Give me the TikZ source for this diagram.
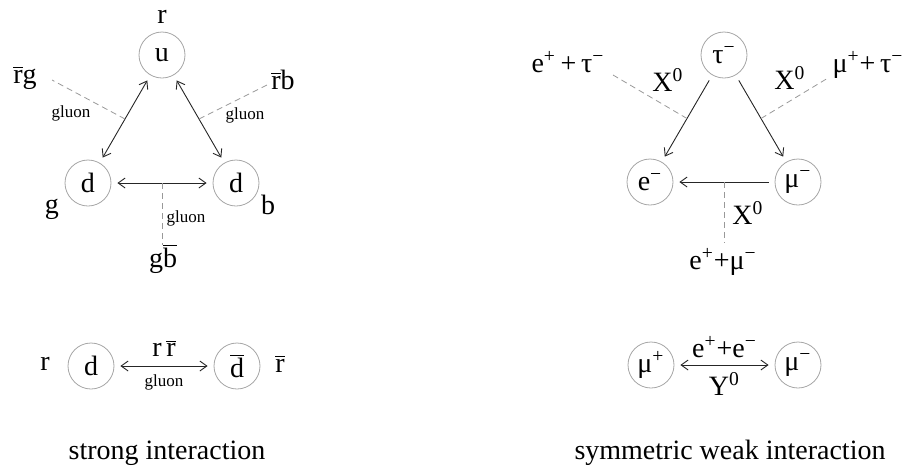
\documentclass[tikz,border=0pt]{standalone}
\usepackage{fontspec}
\setmainfont{Liberation Serif}
\usetikzlibrary{arrows.meta}

\newcommand{\ovl}[1]{$\overline{\mbox{#1}}$}
\newcommand{\sups}[1]{\textsuperscript{#1}}

\begin{document}
\begin{tikzpicture}[
        x=0.5pt,
        y=-0.5pt,
        every node/.style={font=\fontsize{14}{16}\selectfont},
        part/.style={
            circle,
            draw=gray!70,
            line width=0.4pt,
            minimum size=23pt,
            inner sep=0pt
        },
        link/.style={
            draw=gray!30!black,
            line width=0.45pt,
            shorten >=3pt,
            shorten <=3pt,
            >={Straight Barb[length=3.5pt,width=5pt]}
        },
        gluon/.style={draw=gray!80, line width=0.4pt, dash pattern=on 3pt off 2pt},
        tag/.style={font=\fontsize{8.5}{10}\selectfont},
        big/.style={font=\fontsize{14}{16}\selectfont}
    ]
    \useasboundingbox (0,0) rectangle (907,468);

    % strong interaction, triangle
    \node[part] (u) at (162,55) {u};
    \node[part] (dg) at (88,183) {d};
    \node[part] (db) at (236,183) {d};
    \node (ru) at (162,17) {r};
    \node (gd) at (52,209) {g};
    \node (bd) at (268,205) {b};

    \draw[link,<->] (u) -- coordinate (mug) (dg);
    \draw[link,<->] (u) -- coordinate (mub) (db);
    \draw[link,<->] (dg) -- coordinate (mgb) (db);

    \coordinate (g1) at (52,80);
    \coordinate (g2) at (267,85);
    \coordinate (g3) at (162,245);
    \draw[gluon] (mug) -- (g1);
    \draw[gluon] (mub) -- (g2);
    \draw[gluon] (mgb) -- (g3);

    \node (rg) at (25,78) {\ovl{r}g};
    \node (rb) at (283,80) {\ovl{r}b};
    \node (gb) at (163,259) {g\ovl{b}};
    \node[tag] (gl1) at (71,113) {gluon};
    \node[tag] (gl2) at (245,115) {gluon};
    \node[tag] (gl3) at (186,218) {gluon};

    % strong interaction, pair
    \node[part] (dr) at (91,366) {d};
    \node[part] (dbar) at (237,366) {\ovl{d}};
    \node (rl) at (45,364) {r};
    \node (rbar) at (280,364) {\ovl{r}};
    \draw[link,<->] (dr) -- node[above=1pt] {r\,\ovl{r}} node[tag, below=1pt] {gluon} (dbar);

    \node (strong) at (167,453) {strong interaction};

    % weak interaction, triangle
    \node[part] (tau) at (724,55) {τ\sups{−}};
    \node[part] (el) at (650,182) {e\sups{−}};
    \node[part] (mu) at (798,182) {μ\sups{−}};

    \draw[link,->] (tau) -- coordinate (mte) (el);
    \draw[link,->] (tau) -- coordinate (mtm) (mu);
    \draw[link,->] (mu) -- coordinate (mme) (el);

    \coordinate (x1) at (613,75);
    \coordinate (x2) at (828,78);
    \coordinate (x3) at (724,243);
    \draw[gluon] (mte) -- (x1);
    \draw[gluon] (mtm) -- (x2);
    \draw[gluon] (mme) -- (x3);

    \node[big] (et) at (568,62) {e\sups{+}\,+\,τ\sups{−}};
    \node[big] (mt) at (868,65) {μ\sups{+}+\,τ\sups{−}};
    \node[big] (em) at (723,262) {e\sups{+}+μ\sups{−}};
    \node[big] (xl) at (668,80) {X\sups{0}};
    \node[big] (xr) at (790,78) {X\sups{0}};
    \node[big] (xb) at (748,213) {X\sups{0}};

    % weak interaction, pair
    \node[part] (mup) at (651,365) {μ\sups{+}};
    \node[part] (mum) at (798,365) {μ\sups{−}};
    \draw[link,<->] (mup) -- node[big, above=0pt] {e\sups{+}+e\sups{−}} node[big, below=0pt] {Y\sups{0}} (mum);

    \node (weak) at (730,453) {symmetric weak interaction};

    \end{tikzpicture}
\end{document}
